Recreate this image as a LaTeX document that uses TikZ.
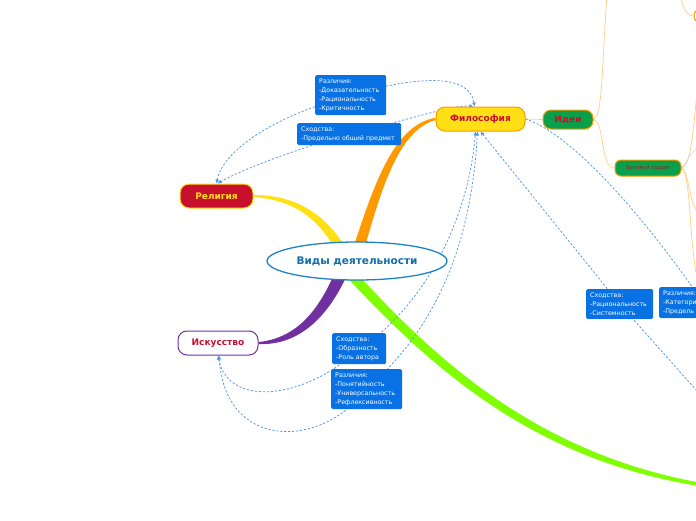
\documentclass[tikz,border=0pt]{standalone}
\usepackage{fontspec}
\setmainfont{DejaVu Sans}
\usetikzlibrary{arrows.meta,shapes.geometric,backgrounds}
\definecolor{boxblue}{RGB}{8,114,228}
\definecolor{dashblue}{RGB}{80,150,230}
\definecolor{crim}{RGB}{200,16,46}
\definecolor{philyel}{RGB}{255,224,20}
\definecolor{brorange}{RGB}{255,153,0}
\definecolor{greenfill}{RGB}{10,160,75}
\definecolor{thinor}{RGB}{255,205,130}
\definecolor{purp}{RGB}{112,48,160}
\definecolor{lime}{RGB}{128,255,0}
\definecolor{ctrblue}{RGB}{30,130,200}
\definecolor{ctrtext}{RGB}{20,110,170}
\definecolor{maroon}{RGB}{150,30,40}
\begin{document}
\begin{tikzpicture}[x=1pt,y=-1pt,
  infobox/.style={fill=boxblue, rounded corners=1.5pt, text=white, font=\fontsize{6.3}{9}\selectfont, align=left, inner xsep=4pt, inner ysep=3.5pt, anchor=north west, text width=#1},
  pill/.style={rounded corners=9pt, line width=1pt, inner sep=0pt, font=\bfseries\fontsize{9}{10}\selectfont},
  conn/.style={draw=dashblue, dash pattern=on 2.2pt off 1.8pt, line width=0.75pt},
  tip/.style={-{Latex[length=4pt,width=4pt]}},
  twotip/.style={{Latex[length=4pt,width=4pt]}-{Latex[length=4pt,width=4pt]}},
  thinline/.style={draw=thinor, line width=0.7pt},
]
\useasboundingbox (0,0) rectangle (696,520);
\clip (0,0) rectangle (696,520);

% main nodes
\node[ellipse, draw=ctrblue, line width=1.3pt, fill=white, minimum width=180pt, minimum height=38pt, text=ctrtext, font=\bfseries\fontsize{10.5}{12}\selectfont, inner sep=0pt] (center) at (357,261) {Виды деятельности};
\node[pill, fill=philyel, draw=brorange, text=crim, minimum width=89pt, minimum height=24pt] (phil) at (480.5,119) {Философия};
\node[pill, rounded corners=8pt, fill=greenfill, draw=brorange, text=crim, minimum width=50pt, minimum height=19pt] (idea) at (568,119.5) {Идеи};
\node[pill, rounded corners=6pt, fill=greenfill, draw=brorange, text=maroon, minimum width=66pt, minimum height=16pt, font=\fontsize{5.5}{6}\selectfont] (byt) at (648,168) {Бытие и сущее};
\node[pill, fill=crim, draw=philyel, text=philyel, minimum width=73pt, minimum height=24pt] (rel) at (216.5,196) {Религия};
\node[pill, fill=white, draw=purp, text=crim, minimum width=80pt, minimum height=24pt] (art) at (218,343) {Искусство};
\node[pill, rounded corners=6pt, draw=brorange, minimum width=40pt, minimum height=13pt] (offn) at (714,16) {};

% label boxes
\node[infobox=63pt] (B1) at (315,75) {Различия:\\-Доказательность\\-Рациональность\\-Критичность};
\node[infobox=96pt] (B2) at (297,123) {Сходства:\\-Предельно общий предмет};
\node[infobox=46pt] (B3) at (332,333) {Сходства:\\-Образность\\-Роль автора};
\node[infobox=63pt] (B4) at (331,369) {Различия:\\-Понятийность\\-Универсальность\\-Рефлексивность};
\node[infobox=59pt] (B5) at (586,289) {Сходства:\\-Рациональность\\-Системность};
\node[infobox=80pt] (B6) at (659,287) {Различия:\\-Категори\\-Предель};

\coordinate (sci) at (785,490);
\coordinate (top1) at (607,-5);
\coordinate (tr0) at (681,-3);
\coordinate (r1) at (700,60);
\coordinate (r2) at (700,214);
\coordinate (r3) at (700,290);
\coordinate (r4) at (700,146);

\begin{scope}[on background layer]
% thick tapered branches
\fill[brorange] ([xshift=-8pt]center.center) .. controls (372,190) and (392,125) .. ([yshift=1.2pt]phil.west) -- ([yshift=-1.2pt]phil.west) .. controls (398,130) and (380,192) .. ([xshift=4pt]center.center) -- cycle;
\fill[philyel] ([yshift=1pt]rel.east) .. controls (292,195) and (326,210) .. ([xshift=-5pt,yshift=3pt]center.center) -- ([xshift=-17pt,yshift=3pt]center.center) .. controls (318,214) and (290,200) .. ([yshift=-1pt]rel.east) -- cycle;
\fill[purp] ([yshift=1pt]art.east) .. controls (300,338) and (322,305) .. ([xshift=-19pt,yshift=-4pt]center.center) -- ([xshift=-7pt,yshift=-7pt]center.center) .. controls (332,312) and (302,346) .. ([yshift=-1pt]art.east) -- cycle;
\fill[lime] ([xshift=-5pt,yshift=-7pt]center.center) .. controls (440,365) and (545,460) .. (720,486) -- (720,489) .. controls (543,467) and (437,375) .. ([xshift=-15pt,yshift=-11pt]center.center) -- cycle;

% thin branches
\draw[thinline] (phil.east) -- (idea.west);
\draw[thinline] (idea.east) .. controls (603,116) and (602,60) .. (top1);
\draw[thinline] (idea.east) .. controls (605,122) and (600,168) .. (byt.west);
\draw[thinline] (tr0) .. controls (683,10) and (688,16) .. (offn.west);
\draw[thinline] (byt.east) .. controls (692,165) and (693,130) .. (r1);
\draw[thinline] (byt.east) .. controls (690,172) and (688,205) .. (r2);
\draw[thinline] (byt.east) .. controls (692,175) and (688,250) .. (r3);
\draw[draw=black!15, line width=0.6pt] (byt.east) .. controls (688,160) and (692,150) .. (r4);

% dashed relations
\draw[conn,twotip] (rel.north) .. controls (222,155) and (262,120) .. (B1.center) .. controls (420,75) and (470,74) .. ([xshift=-6pt]phil.north);
\draw[conn,twotip] ([xshift=1pt]rel.north) .. controls (245,168) and (300,148) .. (B2.center) .. controls (400,122) and (455,104) .. ([xshift=-7pt]phil.north);
\draw[conn,twotip] (art.south) .. controls (228,408) and (305,400) .. (B3.center) .. controls (420,310) and (468,225) .. ([xshift=-5pt]phil.south);
\draw[conn,twotip] ([xshift=1pt]art.south) .. controls (225,450) and (320,450) .. (B4.center) .. controls (445,320) and (472,230) .. ([xshift=-3pt]phil.south);
\draw[conn,{Latex[length=4pt,width=4pt]}-] (phil.south) -- (B5.center) -- (sci);
\draw[conn] (phil.east) .. controls (575,135) and (650,225) .. (B6.center) -- (sci);
\end{scope}
\end{tikzpicture}
\end{document}
